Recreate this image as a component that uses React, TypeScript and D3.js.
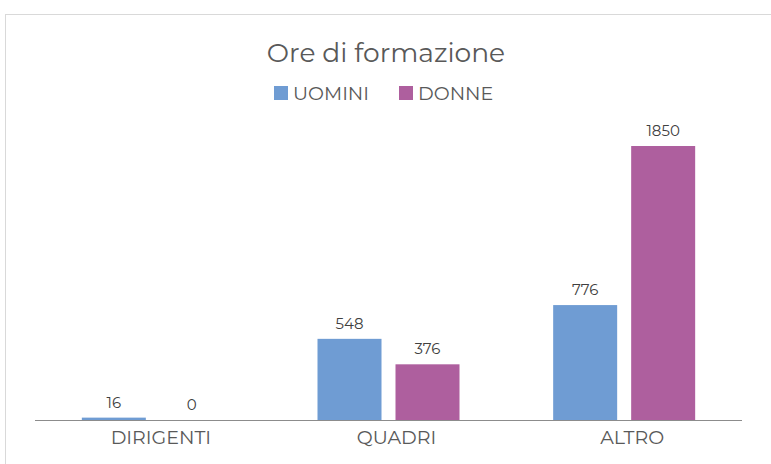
import React from 'react';
import * as d3 from 'd3';

const CATEGORIES = ["DIRIGENTI", "QUADRI", "ALTRO"];
const SERIES = ["UOMINI", "DONNE"];
const UOMINI = [16, 548, 776];
const DONNE = [0, 376, 1850];
const COLORS = ["#6F9CD3", "#AE5F9E"];

const W = 771;
const H = 464;
const FONT = "Montserrat, 'DejaVu Sans', sans-serif";

export default function App() {
    const values = [UOMINI, DONNE];
    const x0 = d3.scaleBand().domain(CATEGORIES).range([35, 742]);
    const inner = 142;
    const pad = (x0.bandwidth() - inner) / 2;
    const x1 = d3.scaleBand().domain(SERIES).range([pad, pad + inner]).paddingInner(0.1795);
    const y = d3.scaleLinear().domain([0, 2000]).range([420, 123.8]);

    return (
        <svg width={W} height={H} style={{ position: 'absolute', left: 0, top: 0 }}>
            <rect x={5.5} y={14.5} width={W + 10} height={H + 10} fill="#fff" stroke="#d9d9d9" />
            <text x={386} y={62} textAnchor="middle" fontSize={26.5} fill="#595959" fontFamily={FONT}>
                Ore di formazione
            </text>
            {SERIES.map((s, i) => {
                const lx = i === 0 ? 274 : 399;
                return (
                    <g key={s}>
                        <rect x={lx} y={86} width={14} height={14} fill={COLORS[i]} />
                        <text x={lx + 19} y={99.5} fontSize={19} fill="#595959" fontFamily={FONT}>{s}</text>
                    </g>
                );
            })}
            {CATEGORIES.map((c, ci) => (
                <g key={c} transform={`translate(${x0(c)},0)`}>
                    {SERIES.map((s, si) => {
                        const v = values[si][ci];
                        const bx = x1(s) as number;
                        return (
                            <g key={s}>
                                <rect x={bx} y={y(v)} width={x1.bandwidth()} height={y(0) - y(v)} fill={COLORS[si]} />
                                <text x={bx + x1.bandwidth() / 2} y={y(v) - 10} textAnchor="middle" fontSize={15} fill="#404040" fontFamily={FONT}>
                                    {v}
                                </text>
                            </g>
                        );
                    })}
                    <text x={x0.bandwidth() / 2 + 8} y={444} textAnchor="middle" fontSize={19} fill="#595959" fontFamily={FONT}>
                        {c}
                    </text>
                </g>
            ))}
            <line x1={35} x2={742} y1={420.5} y2={420.5} stroke="#8c8c8c" strokeWidth={1.2} />
        </svg>
    );
}
